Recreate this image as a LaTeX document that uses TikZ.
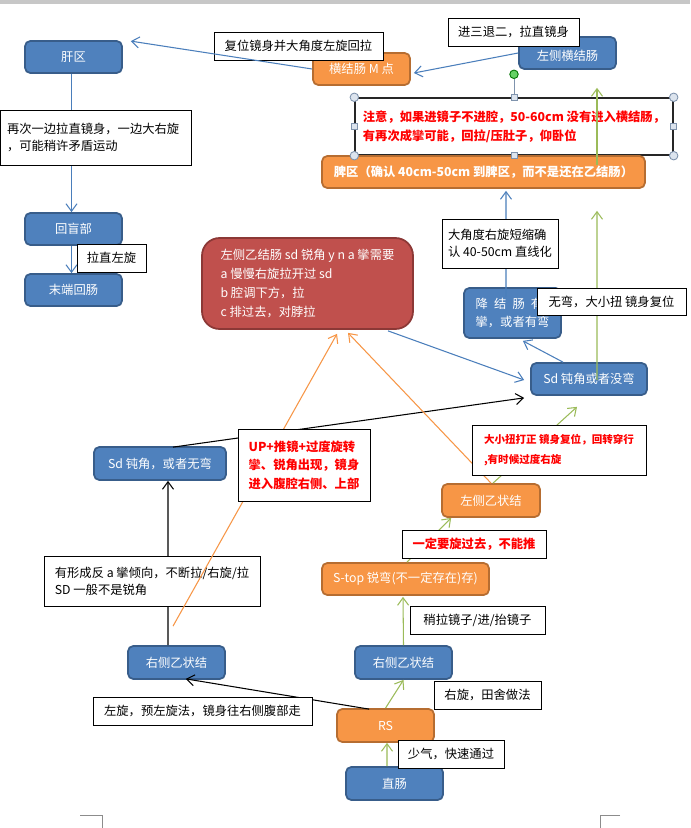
\documentclass[tikz,border=0pt]{standalone}
\usepackage{fontspec}
\setmainfont{Noto Sans CJK SC}
\usetikzlibrary{arrows.meta}

\definecolor{bluefill}{HTML}{4F81BD}
\definecolor{blueedge}{HTML}{385D8A}
\definecolor{orangefill}{HTML}{F79646}
\definecolor{orangeedge}{HTML}{B66D31}
\definecolor{redfill}{HTML}{C0504D}
\definecolor{rededge}{HTML}{8C3836}
\definecolor{blueline}{HTML}{4A7EBB}
\definecolor{greenline}{HTML}{9BBB59}
\definecolor{knobfill}{HTML}{DCE4EE}
\definecolor{knobedge}{HTML}{7F93AD}

\begin{document}
\begin{tikzpicture}[
    x=0.02cm, y=-0.02cm,
    every node/.style={font=\fontsize{7}{9.5}\selectfont},
    blk/.style={draw=blueedge, fill=bluefill, line width=1pt, rounded corners=3pt, text=white, minimum width=1.94cm, minimum height=0.64cm, inner sep=1pt},
    org/.style={blk, draw=orangeedge, fill=orangefill},
    memo/.style={draw, fill=white, line width=0.5pt, minimum height=0.56cm, inner sep=2pt},
    redmemo/.style={memo, align=left, text=red, font=\fontsize{7}{11}\selectfont\bfseries},
    barb/.style={line width=0.6pt, -{Straight Barb[length=1.5mm,width=2.2mm]}},
    bluearrow/.style={barb, draw=blueline},
    greenarrow/.style={barb, draw=greenline},
    orangearrow/.style={barb, draw=orangefill},
    blackarrow/.style={barb, draw=black},
    knob/.style={circle, draw=knobedge, fill=knobfill, line width=0.5pt, minimum size=0.17cm, inner sep=0pt},
    sqknob/.style={rectangle, draw=knobedge, fill=knobfill, line width=0.5pt, minimum size=0.12cm, inner sep=0pt}
]
\useasboundingbox (0,0) rectangle (690,828);
\fill[white] (0,0) rectangle (690,828);
\fill[black!22] (0,0) rectangle (690,4);
\draw[black!45] (80,815) -- (102,815) -- (102,828);
\draw[black!45] (620,815) -- (600,815) -- (600,828);

% Top row
\node[org] (hengM) at (361.5,69) {横结肠 M 点};
\node[memo, minimum width=3.38cm] (resetTip) at (298.5,46) {复位镜身并大角度左旋回拉};
\node[blk] (ganqu) at (73.5,57) {肝区};
\draw[bluearrow] (hengM.west) -- ([shift={(8,1)}]ganqu.north east);
\node[blk] (zuoHeng) at (567.5,53) {\raisebox{-4pt}[0pt][0pt]{左侧横结肠}};
\node[memo, minimum width=2.62cm, minimum height=0.56cm] (jinTip) at (513.5,32) {进三退二，拉直镜身};
\draw[bluearrow] (zuoHeng.west) -- ([shift={(3,4)}]hengM.east);

% Caution note (selected text box) and spleen
\node[redmemo, draw=black!85, line width=0.8pt, minimum width=6.36cm, minimum height=1.14cm] (caution) at (514,126.5) {注意，如果进镜子不进腔，50-60cm 没有进入横结肠，\\有再次成攣可能，回拉/压肚子，仰卧位};
\node[org, minimum width=6.46cm, font=\fontsize{7}{9}\selectfont\bfseries] (piqu) at (483.5,172) {脾区（确认 40cm-50cm 到脾区，而不是还在乙结肠）};
\node[knob, draw=green!45!black, fill=green!70!black!60] (rot) at ([shift={(0,-23)}]caution.north) {};
\draw[knobedge] (rot) -- (caution.north);
\foreach \a in {north west, north east, south west, south east}
    \node[knob] at (caution.\a) {};
\foreach \a in {north, south, west, east}
    \node[sqknob] at (caution.\a) {};
\draw[greenarrow] ([shift={(113.5,-7)}]piqu.center) -- ([shift={(29.5,18)}]zuoHeng.south);

% Left column
\node[blk] (huimang) at (73.5,229) {回盲部};
\node[blk] (moduan) at (73.5,290) {末端回肠};
\draw[bluearrow] ([xshift=-0.04cm]ganqu.south) -- ([xshift=-0.04cm]huimang.north);
\draw[bluearrow] ([xshift=-0.04cm]huimang.south) -- ([xshift=-0.04cm]moduan.north);
\node[memo, align=left, inner xsep=0.14cm, text width=3.54cm, minimum height=1.1cm] (againTip) at (95.5,137.5) {再次一边拉直镜身，一边大右旋\\，可能稍许矛盾运动};
\node[memo, minimum width=1.38cm] (straightTip) at (111.5,258) {拉直左旋};

% Middle
\node[draw=rededge, fill=redfill, line width=1pt, rounded corners=10pt, text=white, align=left, minimum width=4.22cm, minimum height=1.82cm, font=\fontsize{7}{10.8}\selectfont] (redbox) at (307.5,283.5) {左侧乙结肠 sd 锐角 y n a 攣需要\\a 慢慢右旋拉开过 sd\\b 腔调下方，拉\\c 排过去，对脖拉};
\node[blk, align=left, minimum height=1.0cm, font=\fontsize{7}{10}\selectfont] (jiang) at (512.5,313) {降\hspace{3.5pt}结\hspace{3.5pt}肠\hspace{3.5pt}有\\攣，或者有弯};
\node[blk, minimum width=2.32cm] (sdObtuse) at (589,379) {Sd 钝角或者没弯};
\draw[bluearrow] ([shift={(-6.5,-16)}]jiang.center) -- ([shift={(22.5,2)}]piqu.south);
\node[memo, align=left, minimum width=2.32cm, minimum height=0.98cm] (shortenTip) at (500,243.5) {大角度右旋短缩确\\认 40-50cm 直线化};
\draw[bluearrow] ([xshift=-0.52cm]sdObtuse.north) -- ([shift={(-39,2)}]jiang.south east);
\draw[bluearrow] ([shift={(80.5,1)}]redbox.south) -- ([shift={(-6,1)}]sdObtuse.west);
\draw[greenarrow] ([shift={(8,1)}]sdObtuse.center) -- ([shift={(113.5,22)}]piqu.south);
\node[memo, minimum width=2.98cm, minimum height=0.54cm] (noBendTip) at (611.5,301.5) {无弯，大小扭 镜身复位};

% Lower left
\node[blk, minimum width=2.64cm, minimum height=0.66cm] (sdLeft) at (160,463.5) {Sd 钝角，或者无弯};
\node[blk, minimum height=0.66cm] (youYiL) at (176.5,662.5) {右侧乙状结};
\draw[blackarrow] ([xshift=-0.17cm]youYiL.north) -- ([xshift=0.16cm]sdLeft.south);
\node[memo, align=left, minimum width=4.32cm, minimum height=1.0cm] (reverseTip) at (152,581) {有形成反 a 攣倾向，不断拉/右旋/拉\\SD 一般不是锐角};
\draw[blackarrow] ([shift={(13,1)}]sdLeft.north) -- ([shift={(-6,2)}]sdObtuse.south west);

% Lower right
\node[org, minimum width=1.96cm, minimum height=0.66cm] (zuoYi) at (491,500.5) {左侧乙状结};
\node[org, minimum width=3.34cm] (stop) at (405.5,579) {S-top 锐弯(不一定存在)存)};
\node[blk, minimum height=0.66cm] (youYiR) at (403.5,662.5) {右侧乙状结};
\node[org, minimum height=0.66cm] (rs) at (385.5,725.5) {RS};
\node[blk, minimum height=0.66cm] (zhichang) at (394.5,783.5) {直肠};

\draw[orangearrow] ([shift={(-3.5,-19)}]youYiL.north) -- ([shift={(29.5,4)}]redbox.south);
\draw[orangearrow] (zuoYi.north) -- ([shift={(40.5,3)}]redbox.south);
\node[redmemo, minimum width=2.64cm, minimum height=1.44cm, font=\fontsize{7}{10.6}\selectfont\bfseries] (upTip) at (304,465) {UP+推镜+过度旋转\\攣、锐角出现，镜身\\进入腹腔右侧、上部};

\draw[greenarrow] ([xshift=-0.15cm]zhichang.north) -- ([xshift=0.03cm]rs.south);
\draw[greenarrow] (rs.north) -- (youYiR.south);
\draw[greenarrow] (youYiR.north) -- ([shift={(-2.5,1)}]stop.south);
\draw[greenarrow] ([xshift=0.03cm]stop.north) -- ([xshift=0.2cm]zuoYi.south west);
\draw[greenarrow] ([xshift=0.04cm]zuoYi.north) -- ([shift={(-12,11)}]sdObtuse.south);
\draw[blackarrow] ([shift={(33,1)}]rs.north west) -- ([shift={(-40,-1)}]youYiL.south east);

\node[redmemo, minimum width=3.48cm, minimum height=1.0cm, font=\fontsize{6}{11}\selectfont\bfseries] (twistTip) at (559,450) {大小扭打正 镜身复位，回转穿行\\,有时候过度右旋};
\node[redmemo, minimum width=2.88cm] (mustTip) at (474,544) {一定要旋过去，不能推};
\node[memo, minimum width=2.7cm] (pullTip) at (477.5,620) {稍拉镜子/进/抬镜子};
\node[memo, minimum width=2.14cm] (rightTip) at (487.5,695) {右旋，田舍做法};
\node[memo, minimum width=4.38cm] (leftTip) at (202.5,711) {左旋，预左旋法，镜身往右侧腹部走};
\node[memo, minimum width=2.12cm] (fastTip) at (451,754) {少气，快速通过};
\end{tikzpicture}
\end{document}
